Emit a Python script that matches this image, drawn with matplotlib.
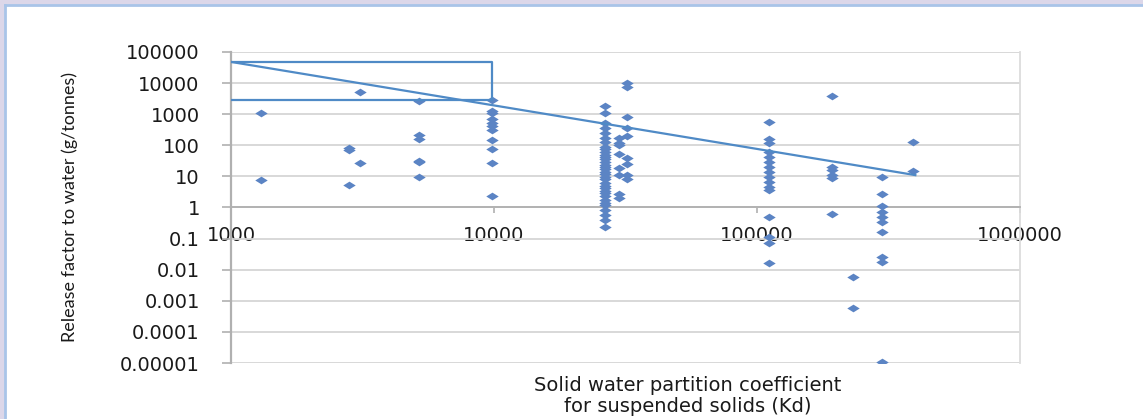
import numpy as np
import matplotlib.pyplot as plt
from matplotlib.path import Path
from matplotlib.patches import Rectangle
from matplotlib.lines import Line2D
from matplotlib.ticker import NullLocator

# Kd (x) columns and the release factors (g/tonnes) plotted at each one
kd_cols = [1300, 2800, 3100, 5200, 9800, 26500, 30000, 32000,
           111000, 193000, 232000, 299000, 392000]
release_cols = [
    [1100, 7.6],
    [70, 80, 5.2],
    [5100, 27],
    [2600, 215, 160, 28, 31, 9.6],
    [2900, 1100, 1250, 700, 520, 410, 310, 150, 76, 27, 2.3],
    [1800, 1100, 520, 360, 250, 170, 130, 90, 75, 60, 50, 42, 35, 29, 24,
     20, 17, 14, 12, 9.5, 8, 6.2, 5, 4.3, 3.5, 3.0, 2.4, 1.7, 1.4, 1.2,
     0.83, 0.58, 0.40, 0.24],
    [170, 118, 100, 53, 19, 11, 2.8, 2.0],
    [10000, 7500, 810, 360, 200, 39, 25, 11, 8.3],
    [560, 160, 118, 60, 42, 29, 20, 14, 9.5, 6.6, 4.6, 3.6, 0.49, 0.11,
     0.072, 0.016],
    [3900, 20, 16, 11, 9, 0.61],
    [0.006, 0.0006],
    [9.5, 2.7, 1.1, 0.7, 0.5, 0.34, 0.16, 0.026, 0.018, 0.000011],
    [125, 15],
]

# fitted line and the bracket marking the read-off at Kd ~ 10^4
trend_kd = [1000, 400000]
trend_rf = [48000, 11]
box_kd = [1000, 9800, 9800, 1000]
box_rf = [48000, 48000, 2900, 2900]

yticks = [1e5, 1e4, 1e3, 1e2, 1e1, 1, 1e-1, 1e-2, 1e-3, 1e-4, 1e-5]
ylabels = ['100000', '10000', '1000', '100', '10', '1', '0.1', '0.01',
           '0.001', '0.0001', '0.00001']
xticks = [1e3, 1e4, 1e5, 1e6]
xlabels = ['1000', '10000', '100000', '1000000']

kd = np.concatenate([[k] * len(r) for k, r in zip(kd_cols, release_cols)])
rf = np.concatenate(release_cols)

# wide, flat diamond marker
diamond = Path([(-1, 0), (0, 0.62), (1, 0), (0, -0.62), (-1, 0)],
               [Path.MOVETO, Path.LINETO, Path.LINETO, Path.LINETO, Path.CLOSEPOLY])

fig = plt.figure(figsize=(11.43, 4.19), dpi=100)
fig.patches.append(Rectangle((0, 0), 1, 1, transform=fig.transFigure,
                             color='#dcd7e9', zorder=-10))
fig.patches.append(Rectangle((6 / 1143, 0), 1, 1 - 6 / 419, transform=fig.transFigure,
                             color='white', zorder=-9))
fig.lines.append(Line2D([5 / 1143, 5 / 1143], [0, 1 - 5 / 419], transform=fig.transFigure,
                        color='#a9c4e8', lw=2))
fig.lines.append(Line2D([5 / 1143, 1], [1 - 5 / 419, 1 - 5 / 419], transform=fig.transFigure,
                        color='#a9c4e8', lw=2))

ax = fig.add_axes([231 / 1143, 1 - 363 / 419, 789 / 1143, 311 / 419])
ax.set_facecolor('none')
ax.set_xscale('log')
ax.set_yscale('log')
ax.set_xlim(1e3, 1e6)
ax.set_ylim(1e-5, 1e5)

ax.scatter(kd, rf, marker=diamond, s=80, color='#5b84c4', linewidths=0, zorder=3)
ax.plot(trend_kd, trend_rf, color='#4f8ac6', lw=1.6, zorder=4)
ax.plot(box_kd, box_rf, color='#4f8ac6', lw=1.6, zorder=4)

ax.set_yticks(yticks, ylabels)
ax.set_xticks(xticks, xlabels)
ax.xaxis.set_minor_locator(NullLocator())
ax.yaxis.set_minor_locator(NullLocator())
ax.tick_params(axis='y', direction='out', length=6.5, width=1.2, color='#b0b0b0',
               pad=16, labelsize=14, labelcolor='#1a1a1a')
ax.tick_params(axis='x', direction='out', length=4, width=1.2, color='#b0b0b0',
               pad=9, labelsize=14, labelcolor='#1a1a1a')

ax.grid(axis='y', color='#d6d6d6', lw=1.3)
ax.set_axisbelow(True)
ax.spines['top'].set_visible(False)
ax.spines['bottom'].set_position(('data', 1))
ax.spines['bottom'].set_color('#b0b0b0')
ax.spines['bottom'].set_linewidth(1.3)
ax.spines['left'].set_color('#b0b0b0')
ax.spines['left'].set_linewidth(1.6)
ax.spines['right'].set_color('#dcdcdc')
ax.spines['right'].set_linewidth(1.3)

fig.text(688 / 1143, 1 - 396 / 419,
         'Solid water partition coefficient\nfor suspended solids (Kd)',
         ha='center', va='center', fontsize=14, color='#1a1a1a', linespacing=1.15)
fig.text(70 / 1143, 1 - 207 / 419, 'Release factor to water (g/tonnes)',
         rotation=90, ha='center', va='center', fontsize=13, color='#1a1a1a',
         family=['Lato', 'DejaVu Sans'])

fig.savefig('out.png', dpi=100)
